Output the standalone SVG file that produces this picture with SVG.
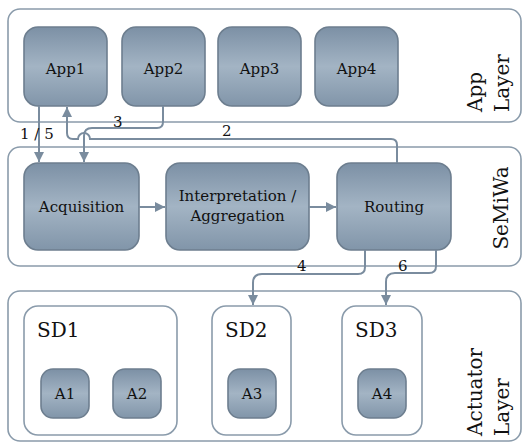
<svg xmlns="http://www.w3.org/2000/svg" width="528" height="446" viewBox="0 0 528 446">
<defs>
<linearGradient id="g" x1="0" y1="0" x2="0" y2="1">
<stop offset="0" stop-color="#7c90a5"/>
<stop offset="0.5" stop-color="#a3b4c4"/>
<stop offset="1" stop-color="#8195a9"/>
</linearGradient>
<marker id="ah" markerUnits="userSpaceOnUse" markerWidth="11" markerHeight="10" refX="10" refY="5" orient="auto" viewBox="0 0 11 10">
<path d="M0,0 L10,5 L0,10 z" fill="#7a8c9e"/>
</marker>
<style>
.layer{fill:#fff;stroke:#8a9bab;stroke-width:1.6}
.box{fill:url(#g);stroke:#6d7e8f;stroke-width:1.6}
.sd{fill:#fff;stroke:#8a9bab;stroke-width:1.6}
.c{fill:none;stroke:#7a8c9e;stroke-width:2}
text{font-family:"DejaVu Serif","Liberation Serif",serif;fill:#111}
.t{font-size:15px;text-anchor:middle}
.sdl{font-size:20px}
.rot{font-size:20px}
.lbl{font-size:15px}
</style>
</defs>
<g id="app-layer">
<rect class="layer" x="8" y="9" width="513" height="113" rx="12"/>
<text class="rot" transform="translate(482,112) rotate(-90)">App</text>
<text class="rot" transform="translate(509,112) rotate(-90)">Layer</text>
</g>
<g id="semiwa-layer">
<rect class="layer" x="8" y="147" width="513" height="119" rx="12"/>
<text class="rot" text-anchor="middle" transform="translate(508,208) rotate(-90)">SeMiWa</text>
</g>
<g id="actuator-layer">
<rect class="layer" x="8" y="291" width="513" height="150" rx="12"/>
<text class="rot" transform="translate(482,436) rotate(-90)">Actuator</text>
<text class="rot" transform="translate(509,436) rotate(-90)">Layer</text>
</g>
<g id="app1"><rect class="box" x="24" y="27" width="83" height="79" rx="14"/><text class="t" x="65.5" y="74">App1</text></g>
<g id="app2"><rect class="box" x="122" y="27" width="83" height="79" rx="14"/><text class="t" x="163.5" y="74">App2</text></g>
<g id="app3"><rect class="box" x="218" y="27" width="83" height="79" rx="14"/><text class="t" x="259.5" y="74">App3</text></g>
<g id="app4"><rect class="box" x="315" y="27" width="83" height="79" rx="14"/><text class="t" x="356.5" y="74">App4</text></g>
<g id="acquisition"><rect class="box" x="24" y="163" width="115" height="87" rx="14"/><text class="t" x="81.5" y="212">Acquisition</text></g>
<g id="interpretation"><rect class="box" x="166" y="163" width="143" height="87" rx="14"/><text class="t" x="237.5" y="201">Interpretation /</text><text class="t" x="237.5" y="221">Aggregation</text></g>
<g id="routing"><rect class="box" x="337" y="163" width="114" height="87" rx="14"/><text class="t" x="394" y="212">Routing</text></g>
<g id="sd1"><rect class="sd" x="24" y="306" width="153" height="129" rx="14"/><text class="sdl" x="37" y="337">SD1</text></g>
<g id="sd2"><rect class="sd" x="212" y="306" width="79" height="129" rx="14"/><text class="sdl" x="225" y="337">SD2</text></g>
<g id="sd3"><rect class="sd" x="342" y="306" width="80" height="129" rx="14"/><text class="sdl" x="355" y="337">SD3</text></g>
<g id="a1"><rect class="box" x="41" y="369" width="48" height="49" rx="12"/><text class="t" x="65" y="399">A1</text></g>
<g id="a2"><rect class="box" x="113" y="369" width="48" height="49" rx="12"/><text class="t" x="137" y="399">A2</text></g>
<g id="a3"><rect class="box" x="228" y="369" width="48" height="49" rx="12"/><text class="t" x="252" y="399">A3</text></g>
<g id="a4"><rect class="box" x="358" y="369" width="48" height="49" rx="12"/><text class="t" x="382" y="399">A4</text></g>
<g id="connectors">
<path class="c" d="M139,207 H165" marker-end="url(#ah)"/>
<path class="c" d="M309,207 H336" marker-end="url(#ah)"/>
<path class="c" d="M39,106 V162" marker-end="url(#ah)"/>
<path class="c" d="M163,106 V122 Q163,128 157,128 H92 Q84,128 84,136 V162" marker-end="url(#ah)"/>
<path class="c" d="M397,163 V145 Q397,139 391,139 H90 A6,6 0 0 0 78,139 H73 Q67,139 67,133 V107" marker-end="url(#ah)"/>
<path class="c" d="M365,250 V267 Q365,274 358,274 H262 Q253,274 253,283 V305" marker-end="url(#ah)"/>
<path class="c" d="M436,250 V266 Q436,273 429,273 H395 Q386,273 386,282 V305" marker-end="url(#ah)"/>
<text class="lbl" x="20" y="139">1 / 5</text>
<text class="lbl" x="113" y="127">3</text>
<text class="lbl" x="222" y="136">2</text>
<text class="lbl" x="297" y="271">4</text>
<text class="lbl" x="398" y="271">6</text>
</g>
</svg>
